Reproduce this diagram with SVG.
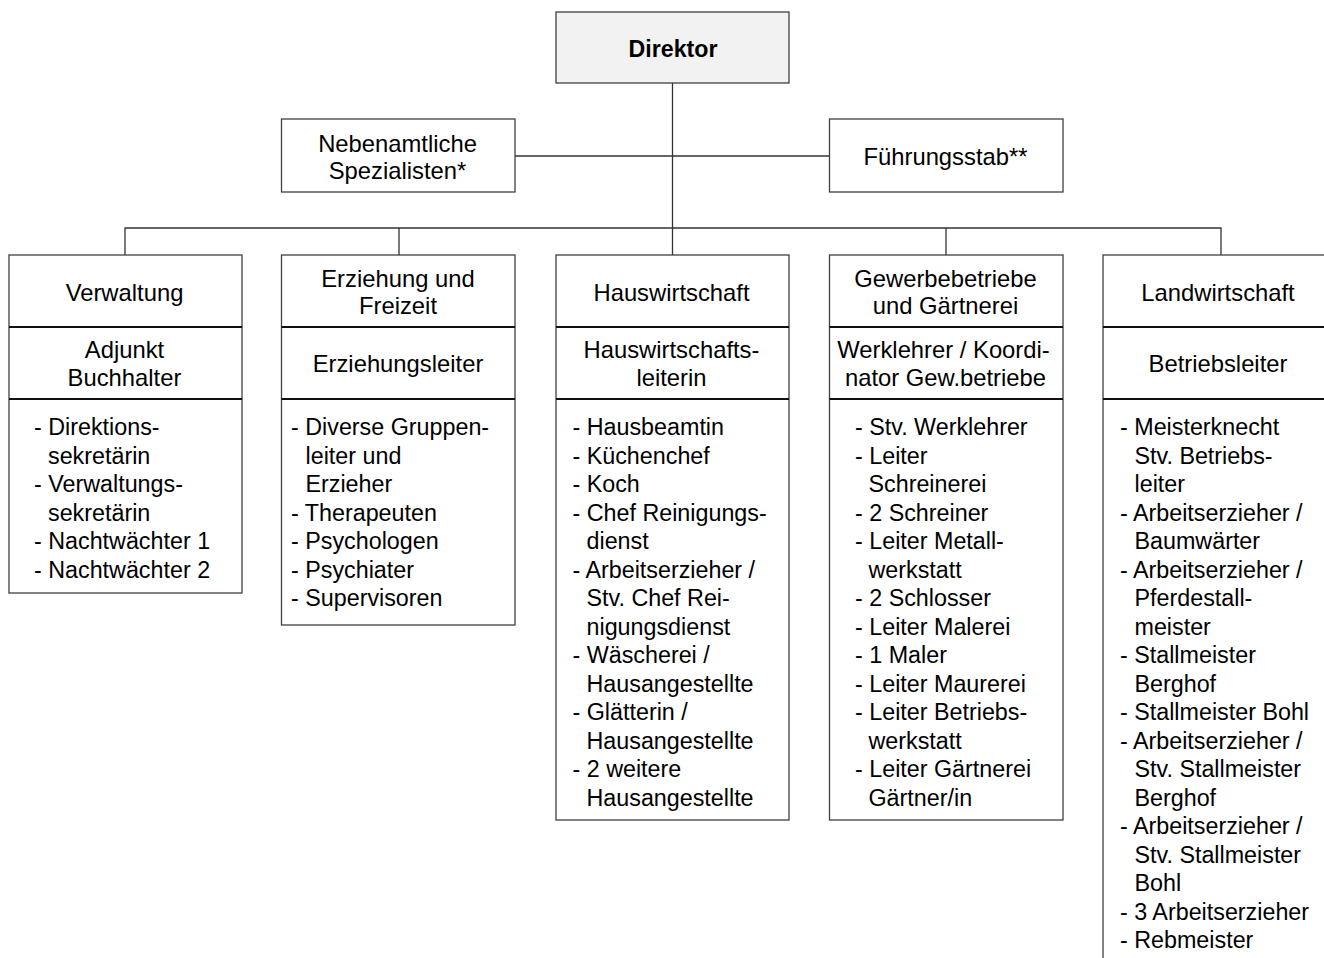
<svg xmlns="http://www.w3.org/2000/svg" width="1324" height="958" viewBox="0 0 1324 958">
<style>
.box{fill:#fff;stroke:#404040;stroke-width:1.3}
.top{fill:#f2f2f2;stroke:#404040;stroke-width:1.3}
.div{stroke:#111;stroke-width:2}
.conn{fill:none;stroke:#333;stroke-width:1.3}
text{font-family:"Liberation Sans",Arial,sans-serif;fill:#000}
.h{font-size:23.8px;text-anchor:middle}
.b{font-size:23.2px;font-weight:bold;text-anchor:middle}
.l{font-size:23.3px}
</style>
<rect width="1324" height="958" fill="#fff"/>
<g id="connectors">
<line class="conn" x1="672.5" y1="83" x2="672.5" y2="255"/>
<line class="conn" x1="515" y1="156" x2="829.5" y2="156"/>
<polyline class="conn" points="125,255 125,228 1221,228 1221,255"/>
<line class="conn" x1="399" y1="228" x2="399" y2="255"/>
<line class="conn" x1="946" y1="228" x2="946" y2="255"/>
</g>
<g id="direktor">
<rect class="top" x="556" y="12" width="233" height="71"/>
<text class="b" x="673" y="56.5">Direktor</text>
</g>
<g id="nebenamtliche">
<rect class="box" x="281.5" y="119" width="233.5" height="73"/>
<text class="h"><tspan x="397.5" y="151.5">Nebenamtliche</tspan><tspan x="397.5" y="178.5">Spezialisten*</tspan></text>
</g>
<g id="fuehrungsstab">
<rect class="box" x="829.5" y="119" width="233.5" height="73"/>
<text class="h" x="945.5" y="165">Führungsstab**</text>
</g>
<g id="verwaltung">
<rect class="box" x="9" y="255" width="233" height="338"/>
<line class="div" x1="9" y1="327" x2="242" y2="327"/>
<line class="div" x1="9" y1="399" x2="242" y2="399"/>
<text class="h" x="124.5" y="301">Verwaltung</text>
<text class="h"><tspan x="124.5" y="358">Adjunkt</tspan><tspan x="124.5" y="385.5">Buchhalter</tspan></text>
<text class="l"><tspan x="34" y="435">- Direktions-</tspan><tspan x="48" y="463.5">sekretärin</tspan><tspan x="34" y="492">- Verwaltungs-</tspan><tspan x="48" y="520.5">sekretärin</tspan><tspan x="34" y="549">- Nachtwächter 1</tspan><tspan x="34" y="577.5">- Nachtwächter 2</tspan></text>
</g>
<g id="erziehung">
<rect class="box" x="281.5" y="255" width="233.5" height="370"/>
<line class="div" x1="281.5" y1="327" x2="515" y2="327"/>
<line class="div" x1="281.5" y1="399" x2="515" y2="399"/>
<text class="h"><tspan x="398" y="286.5">Erziehung und</tspan><tspan x="398" y="313.5">Freizeit</tspan></text>
<text class="h" x="398" y="372">Erziehungsleiter</text>
<text class="l"><tspan x="291" y="435">- Diverse Gruppen-</tspan><tspan x="305.5" y="463.5">leiter und</tspan><tspan x="305.5" y="492">Erzieher</tspan><tspan x="291" y="520.5">- Therapeuten</tspan><tspan x="291" y="549">- Psychologen</tspan><tspan x="291" y="577.5">- Psychiater</tspan><tspan x="291" y="606">- Supervisoren</tspan></text>
</g>
<g id="hauswirtschaft">
<rect class="box" x="556" y="255" width="233" height="565"/>
<line class="div" x1="556" y1="327" x2="789" y2="327"/>
<line class="div" x1="556" y1="399" x2="789" y2="399"/>
<text class="h" x="671.5" y="301">Hauswirtschaft</text>
<text class="h"><tspan x="671.5" y="358">Hauswirtschafts-</tspan><tspan x="671.5" y="385.5">leiterin</tspan></text>
<text class="l"><tspan x="572.5" y="435">- Hausbeamtin</tspan><tspan x="572.5" y="463.5">- Küchenchef</tspan><tspan x="572.5" y="492">- Koch</tspan><tspan x="572.5" y="520.5">- Chef Reinigungs-</tspan><tspan x="586.5" y="549">dienst</tspan><tspan x="572.5" y="577.5">- Arbeitserzieher /</tspan><tspan x="586.5" y="606">Stv. Chef Rei-</tspan><tspan x="586.5" y="634.5">nigungsdienst</tspan><tspan x="572.5" y="663">- Wäscherei /</tspan><tspan x="586.5" y="691.5">Hausangestellte</tspan><tspan x="572.5" y="720">- Glätterin /</tspan><tspan x="586.5" y="748.5">Hausangestellte</tspan><tspan x="572.5" y="777">- 2 weitere</tspan><tspan x="586.5" y="805.5">Hausangestellte</tspan></text>
</g>
<g id="gewerbebetriebe">
<rect class="box" x="829.5" y="255" width="233.5" height="565"/>
<line class="div" x1="829.5" y1="327" x2="1063" y2="327"/>
<line class="div" x1="829.5" y1="399" x2="1063" y2="399"/>
<text class="h"><tspan x="945.5" y="286.5">Gewerbebetriebe</tspan><tspan x="945.5" y="313.5">und Gärtnerei</tspan></text>
<text class="h"><tspan x="943.5" y="358">Werklehrer / Koordi-</tspan><tspan x="945.5" y="385.5">nator Gew.betriebe</tspan></text>
<text class="l"><tspan x="855" y="435">- Stv. Werklehrer</tspan><tspan x="855" y="463.5">- Leiter</tspan><tspan x="868.5" y="492">Schreinerei</tspan><tspan x="855" y="520.5">- 2 Schreiner</tspan><tspan x="855" y="549">- Leiter Metall-</tspan><tspan x="868.5" y="577.5">werkstatt</tspan><tspan x="855" y="606">- 2 Schlosser</tspan><tspan x="855" y="634.5">- Leiter Malerei</tspan><tspan x="855" y="663">- 1 Maler</tspan><tspan x="855" y="691.5">- Leiter Maurerei</tspan><tspan x="855" y="720">- Leiter Betriebs-</tspan><tspan x="868.5" y="748.5">werkstatt</tspan><tspan x="855" y="777">- Leiter Gärtnerei</tspan><tspan x="868.5" y="805.5">Gärtner/in</tspan></text>
</g>
<g id="landwirtschaft">
<rect class="box" x="1103" y="255" width="240" height="720"/>
<line class="div" x1="1103" y1="327" x2="1324" y2="327"/>
<line class="div" x1="1103" y1="399" x2="1324" y2="399"/>
<text class="h" x="1218" y="301">Landwirtschaft</text>
<text class="h" x="1218" y="372">Betriebsleiter</text>
<text class="l"><tspan x="1120" y="435">- Meisterknecht</tspan><tspan x="1134.5" y="463.5">Stv. Betriebs-</tspan><tspan x="1134.5" y="492">leiter</tspan><tspan x="1120" y="520.5">- Arbeitserzieher /</tspan><tspan x="1134.5" y="549">Baumwärter</tspan><tspan x="1120" y="577.5">- Arbeitserzieher /</tspan><tspan x="1134.5" y="606">Pferdestall-</tspan><tspan x="1134.5" y="634.5">meister</tspan><tspan x="1120" y="663">- Stallmeister</tspan><tspan x="1134.5" y="691.5">Berghof</tspan><tspan x="1120" y="720">- Stallmeister Bohl</tspan><tspan x="1120" y="748.5">- Arbeitserzieher /</tspan><tspan x="1134.5" y="777">Stv. Stallmeister</tspan><tspan x="1134.5" y="805.5">Berghof</tspan><tspan x="1120" y="834">- Arbeitserzieher /</tspan><tspan x="1134.5" y="862.5">Stv. Stallmeister</tspan><tspan x="1134.5" y="891">Bohl</tspan><tspan x="1120" y="919.5">- 3 Arbeitserzieher</tspan><tspan x="1120" y="948">- Rebmeister</tspan></text>
</g>
</svg>
